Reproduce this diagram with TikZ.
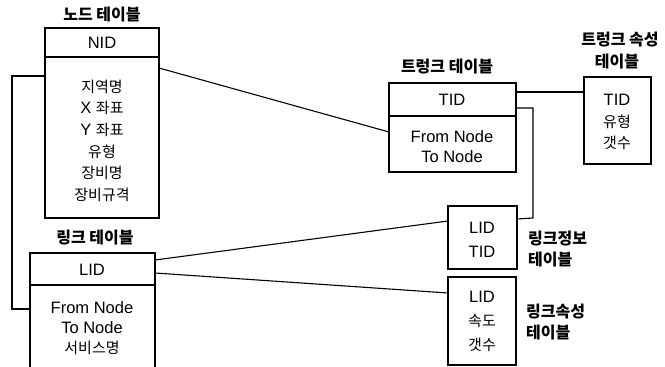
\documentclass[tikz,border=0pt]{standalone}
\usepackage{fontspec}
\setmainfont{Liberation Sans}
\newfontfamily\kr{Noto Sans CJK KR}
\begin{document}
\begin{tikzpicture}[x=1pt,y=-1pt,
  box/.style={draw,line width=1.3pt},
  conn/.style={line width=1.1pt},
  ttl/.style={font=\kr\bfseries\fontsize{16}{18}\selectfont,inner sep=0pt},
  txt/.style={font=\fontsize{16.5}{18}\selectfont,inner sep=0pt},
  ktxt/.style={font=\kr\fontsize{15}{17}\selectfont,inner sep=0pt}]
\useasboundingbox (0,0) rectangle (665,367);
% node table
\node[ttl] (ntitle) at (102,15) {노드 테이블};
\draw[box] (45,28) rectangle (159,218);
\draw[box] (45,57) -- (159,57);
\coordinate (nL) at (45,76);
\coordinate (nR) at (159,68);
\node[txt] (nid) at (102,43) {NID};
\node[ktxt] (n1) at (102,87) {지역명};
\node[txt] (n2) at (102,108) {X {\kr\fontsize{15}{17}\selectfont 좌표}};
\node[txt] (n3) at (102,130) {Y {\kr\fontsize{15}{17}\selectfont 좌표}};
\node[ktxt] (n4) at (102,152) {유형};
\node[ktxt] (n5) at (102,173) {장비명};
\node[ktxt] (n6) at (102,195) {장비규격};
% link table
\node[ttl] (ltitle) at (95,238) {링크 테이블};
\draw[box] (30,370) -- (30,253) -- (155,253) -- (155,370);
\draw[box] (30,285) -- (155,285);
\coordinate (lL) at (30,309);
\coordinate (lR1) at (155,260);
\coordinate (lR2) at (155,273);
\node[txt] (lid) at (92,270) {LID};
\node[txt] (l1) at (92,308) {From Node};
\node[txt] (l2) at (92,328) {To Node};
\node[ktxt] (l3) at (92,348) {서비스명};
% trunk table
\node[ttl] (ttitle) at (447,67) {트렁크 테이블};
\draw[box] (389,83) rectangle (516,172);
\draw[box] (389,116) -- (516,116);
\coordinate (tL) at (389,132);
\coordinate (tR1) at (516,92);
\coordinate (tR2) at (516,108);
\node[txt] (tid) at (452,100) {TID};
\node[txt] (t1) at (452,137) {From Node};
\node[txt] (t2) at (452,157) {To Node};
% trunk attr table
\node[ttl] (tatitle1) at (620,40) {트렁크 속성};
\node[ttl] (tatitle2) at (617,62) {테이블};
\draw[box] (584,77) rectangle (651,164);
\coordinate (taL) at (584,92);
\node[txt] (ta1) at (617,100) {TID};
\node[ktxt] (ta2) at (617,122) {유형};
\node[ktxt] (ta3) at (617,143) {갯수};
% link info table
\draw[box] (448,206) rectangle (517,269);
\coordinate (liL) at (448,221);
\coordinate (liR) at (517,219);
\node[txt] (li1) at (482,228) {LID};
\node[txt] (li2) at (482,252) {TID};
\node[ttl,anchor=west] (lit1) at (528,239) {링크정보};
\node[ttl,anchor=west] (lit2) at (528,260) {테이블};
% link attr table
\draw[box] (448,277) rectangle (516,365);
\coordinate (laL) at (448,293);
\node[txt] (la1) at (482,297) {LID};
\node[ktxt] (la2) at (482,321) {속도};
\node[ktxt] (la3) at (482,345) {갯수};
\node[ttl,anchor=west] (lat1) at (526,312) {링크속성};
\node[ttl,anchor=west] (lat2) at (526,333) {테이블};
% connectors
\draw[conn] (nL) -- (12,76) -- (12,309) -- (lL);
\draw[conn] (nR) -- (tL);
\draw[conn] (tR1) -- (taL);
\draw[conn] (tR2) -- (533,108) -- (533,218) -- (liR);
\draw[conn] (lR1) -- (liL);
\draw[conn] (lR2) -- (laL);
\end{tikzpicture}
\end{document}
